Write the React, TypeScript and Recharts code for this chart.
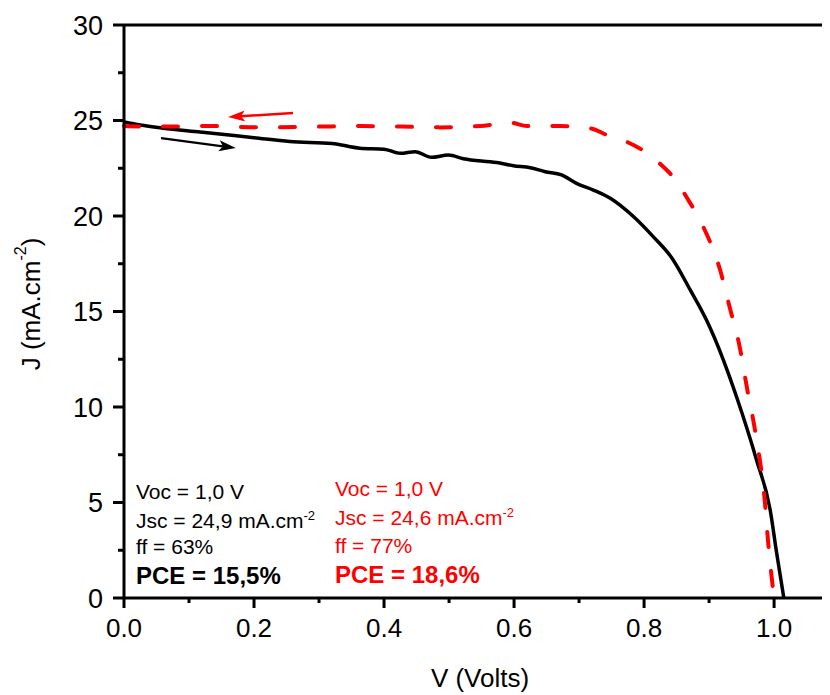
import React from 'react';
import { LineChart, Line, XAxis, YAxis, ReferenceLine } from 'recharts';

// forward scan (black, solid)
const vForward = [0, 0.025, 0.06, 0.117, 0.2, 0.255, 0.32, 0.363, 0.4, 0.425, 0.448, 0.473, 0.499, 0.522, 0.573, 0.599, 0.625, 0.648, 0.673, 0.696, 0.722, 0.748, 0.784, 0.814, 0.843, 0.871, 0.896, 0.922, 0.943, 0.973, 0.994, 1.004, 1.015];
const jForward = [24.92, 24.76, 24.6, 24.4, 24.1, 23.9, 23.8, 23.55, 23.5, 23.28, 23.37, 23.07, 23.19, 23.0, 22.8, 22.63, 22.53, 22.32, 22.15, 21.71, 21.36, 20.93, 19.96, 18.92, 17.79, 16.13, 14.55, 12.46, 10.46, 7.23, 4.61, 2.34, 0];

// reverse scan (red, dashed)
const vReverse = [0, 0.055, 0.132, 0.21, 0.3, 0.363, 0.425, 0.486, 0.548, 0.594, 0.62, 0.671, 0.717, 0.743, 0.773, 0.799, 0.825, 0.845, 0.868, 0.891, 0.917, 0.932, 0.947, 0.958, 0.971, 0.986, 0.991, 1.0];
const jReverse = [24.71, 24.68, 24.71, 24.64, 24.68, 24.71, 24.68, 24.64, 24.71, 24.89, 24.71, 24.71, 24.59, 24.24, 23.89, 23.42, 22.72, 22.03, 20.84, 19.44, 17.17, 15.18, 13.16, 11.06, 8.71, 4.96, 2.86, 0];

const xTicks = [0, 0.1, 0.2, 0.3, 0.4, 0.5, 0.6, 0.7, 0.8, 0.9, 1.0];
const xMajor = [0, 0.2, 0.4, 0.6, 0.8, 1.0];
const yTicks = [0, 2.5, 5, 7.5, 10, 12.5, 15, 17.5, 20, 22.5, 25, 27.5, 30];
const yMajor = [0, 5, 10, 15, 20, 25, 30];

const blackStats = ['Voc = 1,0 V', 'Jsc = 24,9 mA.cm', 'ff = 63%', 'PCE = 15,5%'];
const redStats = ['Voc = 1,0 V', 'Jsc = 24,6 mA.cm', 'ff = 77%', 'PCE = 18,6%'];

const forwardData = vForward.map((v, i) => ({ v, j: jForward[i] }));
const reverseData = vReverse.map((v, i) => ({ v, j: jReverse[i] }));

const FONT = '"Liberation Sans", Arial, sans-serif';

const isMajor = (list: number[], val: number) => list.some((m) => Math.abs(m - val) < 1e-6);

const YTick = (props: any) => {
  const { x, y, payload } = props;
  const major = isMajor(yMajor, payload.value);
  return (
    <g>
      <line x1={x} y1={y} x2={x - (major ? 11 : 6)} y2={y} stroke="#000" strokeWidth={3} />
      {major && (
        <text x={x - 21} y={y} dy="0.36em" textAnchor="end" fontSize={27} fontFamily={FONT} fill="#000">
          {payload.value}
        </text>
      )}
    </g>
  );
};

const XTick = (props: any) => {
  const { x, y, payload } = props;
  const major = isMajor(xMajor, payload.value);
  return (
    <g>
      <line x1={x} y1={y} x2={x} y2={y + (major ? 10 : 5)} stroke="#000" strokeWidth={3} />
      {major && (
        <text x={x} y={y + 39} textAnchor="middle" fontSize={26} fontFamily={FONT} fill="#000">
          {payload.value.toFixed(1)}
        </text>
      )}
    </g>
  );
};

const arrow = (color: string, width: number) => (p: any) => {
  const { x1, y1, x2, y2 } = p;
  const ang = Math.atan2(y2 - y1, x2 - x1);
  const len = 17;
  const hw = 5.5;
  const bx = x2 - len * Math.cos(ang);
  const by = y2 - len * Math.sin(ang);
  const px = -Math.sin(ang) * hw;
  const py = Math.cos(ang) * hw;
  const nx = bx + 4 * Math.cos(ang);
  const ny = by + 4 * Math.sin(ang);
  return (
    <g>
      <line x1={x1} y1={y1} x2={nx} y2={ny} stroke={color} strokeWidth={width} />
      <polygon points={`${x2},${y2} ${bx + px},${by + py} ${nx},${ny} ${bx - px},${by - py}`} fill={color} />
    </g>
  );
};

export default function App() {
  return (
    <div style={{ position: 'relative', width: 822, height: 687 }}>
      <LineChart width={822} height={687} margin={{ top: 17, right: 0, bottom: 0, left: 0 }}>
        <XAxis
          dataKey="v"
          type="number"
          domain={[0, 1.086]}
          ticks={xTicks}
          tick={XTick}
          tickLine={false}
          tickSize={0}
          tickMargin={0}
          height={97}
          axisLine={{ stroke: '#000', strokeWidth: 3 }}
          allowDuplicatedCategory={false}
        />
        <YAxis
          type="number"
          domain={[0, 30]}
          ticks={yTicks}
          tick={YTick}
          tickLine={false}
          tickSize={0}
          tickMargin={0}
          width={116}
          interval={0}
          axisLine={{ stroke: '#000', strokeWidth: 3 }}
        />
        <ReferenceLine y={30} stroke="#000" strokeWidth={3} />
        <Line data={forwardData} dataKey="j" type="monotone" stroke="#000" strokeWidth={3.5} dot={false} activeDot={false} isAnimationActive={false} />
        <Line data={reverseData} dataKey="j" type="monotone" stroke="#ff0000" strokeWidth={4} strokeDasharray="15 24" strokeLinecap="round" dot={false} activeDot={false} isAnimationActive={false} />
        <ReferenceLine segment={[{ x: 0.26, y: 25.39 }, { x: 0.16, y: 25.18 }]} shape={arrow('#ff0000', 2.5)} />
        <ReferenceLine segment={[{ x: 0.057, y: 24.08 }, { x: 0.172, y: 23.56 }]} shape={arrow('#000', 2.2)} />
      </LineChart>
      <svg width={822} height={687} style={{ position: 'absolute', left: 0, top: 0, pointerEvents: 'none' }} fontFamily={FONT}>
        <text x={472} y={679} textAnchor="middle" fontSize={26} fill="#000">V (Volts)</text>
        <text transform="translate(23,296) rotate(-90)" textAnchor="middle" dominantBaseline="central" fontSize={26} fill="#000">
          J (mA.cm<tspan fontSize={16} dy={-11}>-2</tspan><tspan dy={11}>)</tspan>
        </text>
        {blackStats.map((s, i) => (
          <text key={'b' + i} x={128} y={[491, 520, 546, 576][i]} fontSize={i === 3 ? 24 : 21} fontWeight={i === 3 ? 'bold' : 'normal'} fill="#000">
            {s}
            {i === 1 && <tspan fontSize={13} dy={-8}>-2</tspan>}
          </text>
        ))}
        {redStats.map((s, i) => (
          <text key={'r' + i} x={327} y={[488, 517, 545, 575][i]} fontSize={i === 3 ? 24 : 21} fontWeight={i === 3 ? 'bold' : 'normal'} fill="#ff0000">
            {s}
            {i === 1 && <tspan fontSize={13} dy={-8}>-2</tspan>}
          </text>
        ))}
      </svg>
    </div>
  );
}
